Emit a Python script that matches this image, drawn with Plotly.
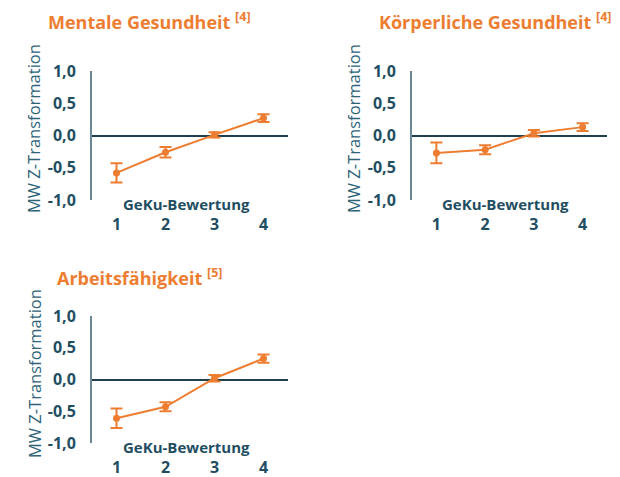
import plotly.graph_objects as go

categories = [1, 2, 3, 4]
tick_labels = ["1", "2", "3", "4"]

mental_mean = [-0.58, -0.26, 0.01, 0.27]
mental_err = [0.15, 0.08, 0.04, 0.06]

koerper_mean = [-0.27, -0.22, 0.035, 0.13]
koerper_err = [0.16, 0.07, 0.05, 0.06]

arbeit_mean = [-0.61, -0.43, 0.02, 0.33]
arbeit_err = [0.155, 0.07, 0.05, 0.065]

titles = ["Mentale Gesundheit", "Körperliche Gesundheit", "Arbeitsfähigkeit"]
refs = ["[4]", "[4]", "[5]"]
y_title = "MW Z-Transformation"
x_title = "GeKu-Bewertung"

y_ticks = [-1.0, -0.5, 0.0, 0.5, 1.0]
y_tick_text = ["-1,0", "-0,5", "0,0", "0,5", "1,0"]

ORANGE = "#ED7D31"
DARK = "#1F4E63"
AXIS = "#6B8796"
FONT = "Open Sans"

# page body has an 8px margin; figure sized to fill the rest of the window
OFF = 8
W, H = 620 - OFF, 477 - OFF

def px_x(a, b):
    return [(a - OFF) / W, (b - OFF) / W]

def px_y(top, bottom):
    return [1 - (bottom - OFF) / H, 1 - (top - OFF) / H]

panels = [
    dict(x=px_x(92, 288), y=px_y(71, 200), mean=mental_mean, err=mental_err,
         title_x=46, title_y=21, ytitle_x=34, ytitle_y=129),
    dict(x=px_x(412, 607), y=px_y(71, 200), mean=koerper_mean, err=koerper_err,
         title_x=377, title_y=21, ytitle_x=354, ytitle_y=129),
    dict(x=px_x(92, 288), y=px_y(316, 443), mean=arbeit_mean, err=arbeit_err,
         title_x=55, title_y=277, ytitle_x=34, ytitle_y=374),
]

fig = go.Figure()
annotations = []
for i, p in enumerate(panels):
    n = "" if i == 0 else str(i + 1)
    fig.add_trace(go.Scatter(
        x=categories, y=p["mean"], mode="lines+markers",
        line=dict(color=ORANGE, width=2),
        marker=dict(color=ORANGE, size=7),
        error_y=dict(type="data", array=p["err"], visible=True,
                     color=ORANGE, thickness=2, width=6),
        xaxis="x" + n, yaxis="y" + n, showlegend=False,
    ))
    fig.update_layout(**{
        "xaxis" + n: dict(
            domain=p["x"], range=[0.5, 4.5], anchor="y" + n, automargin=False,
            tickmode="array", tickvals=categories, ticktext=tick_labels,
            showgrid=False, zeroline=False, showline=False, ticks="",
            ticklabelstandoff=13,
            tickfont=dict(family=FONT, size=16, color=DARK, weight="bold"),
            fixedrange=True,
        ),
        "yaxis" + n: dict(
            domain=p["y"], range=[-1.0, 1.0], anchor="x" + n, automargin=False,
            tickmode="array", tickvals=y_ticks, ticktext=y_tick_text,
            showgrid=False, zeroline=True, zerolinecolor="#1F3F4F", zerolinewidth=1.5,
            showline=True, linecolor=AXIS, linewidth=2, ticks="",
            ticklabelstandoff=11,
            tickfont=dict(family=FONT, size=16, color=DARK, weight="bold"),
            fixedrange=True,
        ),
    })
    xc = (p["x"][0] + p["x"][1]) / 2
    annotations.append(dict(
        text="<b>" + x_title + "</b>", xref="paper", yref="paper",
        x=xc - 4 / W, y=p["y"][0] - 4 / H, xanchor="center", yanchor="middle",
        showarrow=False, font=dict(family=FONT, size=15, color=DARK),
    ))
    annotations.append(dict(
        text=y_title, xref="paper", yref="paper", textangle=-90,
        x=(p["ytitle_x"] - OFF) / W, y=1 - (p["ytitle_y"] - OFF) / H,
        xanchor="center", yanchor="middle",
        showarrow=False, font=dict(family=FONT, size=16.5, color="#2E6378"),
    ))
    annotations.append(dict(
        text="<b>" + titles[i] + " <sup>" + refs[i] + "</sup></b>",
        xref="paper", yref="paper",
        x=(p["title_x"] - OFF) / W, y=1 - (p["title_y"] - OFF) / H,
        xanchor="left", yanchor="middle",
        showarrow=False, font=dict(family=FONT, size=18, color=ORANGE),
    ))

fig.update_layout(
    width=W, height=H, margin=dict(l=0, r=0, t=0, b=0),
    paper_bgcolor="white", plot_bgcolor="white",
    annotations=annotations,
)
fig.write_html("out.html")
